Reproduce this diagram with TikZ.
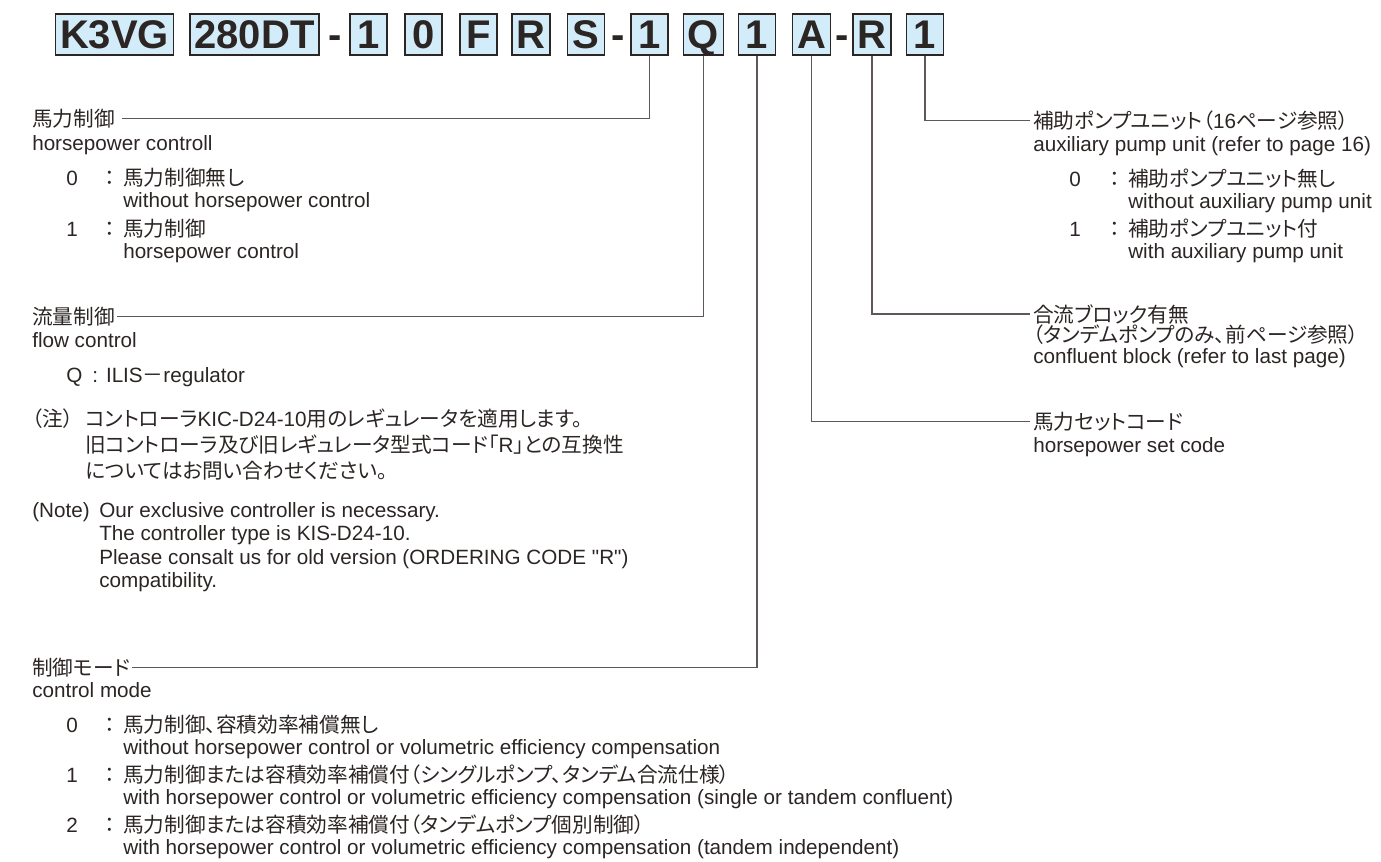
\documentclass[tikz,border=0pt]{standalone}
\usepackage{fontspec}
\setmainfont{Liberation Sans}
\newfontfamily\jpfont[RawFeature=+palt]{Noto Sans CJK JP}
\newcommand{\jtext}[1]{{\jpfont #1}}
\newcommand{\jcolon}{\jtext{：}\hspace{6.5pt}}
\newcommand{\sq}{\XeTeXglyph\XeTeXcharglyph"22\relax}
\definecolor{codefill}{HTML}{D3ECFA}
\definecolor{ink}{HTML}{2B2523}
\definecolor{leadgray}{HTML}{5E5857}
\tikzset{
	codebox/.style={draw=ink, fill=codefill, line width=1pt, text=ink,
		font=\fontsize{30}{30}\selectfont\bfseries, text height=21.6pt, text depth=0pt,
		minimum height=30.75pt, minimum width=27.75pt, inner xsep=3.4pt, inner ysep=0pt},
	codedash/.style={text=ink, font=\fontsize{30}{30}\selectfont\bfseries,
		text height=21.6pt, text depth=0pt, inner sep=0pt},
	lbl/.style={anchor=base west, inner sep=0pt, text=ink, font=\fontsize{15.5}{18}\selectfont},
	leader/.style={draw=leadgray, line width=0.9pt}
}
\begin{document}
\begin{tikzpicture}[x=0.75pt, y=-0.75pt]
	\useasboundingbox (0,0) rectangle (1381,861);
	\node[codebox] (series) at (114.5,34.5) {K3VG};
	\node[codebox] (size) at (254.5,34.5) {280DT};
	\node[codedash] (dashA) at (335,34.5) {-};
	\node[codebox] (c1) at (368.5,34.5) {1};
	\node[codebox] (c0) at (423.5,34.5) {0};
	\node[codebox] (cF) at (478.5,34.5) {F};
	\node[codebox] (cR) at (531,34.5) {R};
	\node[codebox] (cS) at (586,34.5) {S};
	\node[codedash] (dashB) at (618,34.5) {-};
	\node[codebox] (hpc) at (649.5,34.5) {1};
	\node[codebox] (flow) at (703.5,34.5) {Q};
	\node[codebox] (mode) at (757,34.5) {1};
	\node[codebox] (hpset) at (811.5,34.5) {A};
	\node[codedash] (dashC) at (842,34.5) {-};
	\node[codebox] (confl) at (872,34.5) {R};
	\node[codebox] (aux) at (925,34.5) {1};

	\node[lbl] (hpJ) at (32,126) {\jtext{馬力制御}};
	\node[lbl] (hpE) at (32,150) {horsepower controll};
	\node[lbl] (hp0) at (66,185) {0};
	\node[lbl] (hp0J) at (104,185) {\jcolon\jtext{馬力制御無し}};
	\node[lbl] (hp0E) at (123,207) {without horsepower control};
	\node[lbl] (hp1) at (66,236) {1};
	\node[lbl] (hp1J) at (104,236) {\jcolon\jtext{馬力制御}};
	\node[lbl] (hp1E) at (123,258) {horsepower control};

	\node[lbl] (flJ) at (32,324) {\jtext{流量制御}};
	\node[lbl] (flE) at (32,347) {flow control};
	\node[lbl] (flQ) at (66,382) {Q};
	\node[lbl] (flQE) at (92,382) {:\hspace{6pt}ILIS\jtext{－}regulator};

	\node[lbl] (ntJ) at (32,426) {\jtext{（注）}};
	\node[lbl] (ntJ1) at (85,426) {\jtext{コントローラ}KIC-D24-10\jtext{用のレギュレータを適用します。}};
	\node[lbl] (ntJ2) at (85,452) {\jtext{旧コントローラ及び旧レギュレータ型式コード「}R\jtext{」との互換性}};
	\node[lbl] (ntJ3) at (85,478) {\jtext{についてはお問い合わせください。}};
	\node[lbl] (ntE) at (32,517) {(Note)};
	\node[lbl] (ntE1) at (99,517) {Our exclusive controller is necessary.};
	\node[lbl] (ntE2) at (99,540) {The controller type is KIS-D24-10.};
	\node[lbl] (ntE3) at (99,564) {Please consalt us for old version (ORDERING CODE \sq R\sq)};
	\node[lbl] (ntE4) at (99,587) {compatibility.};

	\node[lbl] (mdJ) at (32,675) {\jtext{制御モード}};
	\node[lbl] (mdE) at (32,697) {control mode};
	\node[lbl] (md0) at (66,732) {0};
	\node[lbl] (md0J) at (104,732) {\jcolon\jtext{馬力制御、容積効率補償無し}};
	\node[lbl] (md0E) at (123,754) {without horsepower control or volumetric efficiency compensation};
	\node[lbl] (md1) at (66,782) {1};
	\node[lbl] (md1J) at (104,782) {\jcolon\jtext{馬力制御または容積効率補償付（シングルポンプ、タンデム合流仕様）}};
	\node[lbl] (md1E) at (123,804) {with horsepower control or volumetric efficiency compensation (single or tandem confluent)};
	\node[lbl] (md2) at (66,832) {2};
	\node[lbl] (md2J) at (104,832) {\jcolon\jtext{馬力制御または容積効率補償付（タンデムポンプ個別制御）}};
	\node[lbl] (md2E) at (123,854) {with horsepower control or volumetric efficiency compensation (tandem independent)};

	\node[lbl] (axJ) at (1033,128) {\jtext{補助ポンプユニット（}16\jtext{ページ参照）}};
	\node[lbl] (axE) at (1033,151) {auxiliary pump unit (refer to page 16)};
	\node[lbl] (ax0) at (1069,186) {0};
	\node[lbl] (ax0J) at (1109,186) {\jcolon\jtext{補助ポンプユニット無し}};
	\node[lbl] (ax0E) at (1128,208) {without auxiliary pump unit};
	\node[lbl] (ax1) at (1069,236) {1};
	\node[lbl] (ax1J) at (1109,236) {\jcolon\jtext{補助ポンプユニット付}};
	\node[lbl] (ax1E) at (1128,258) {with auxiliary pump unit};

	\node[lbl] (cfJ) at (1033,322) {\jtext{合流ブロック有無}};
	\node[lbl] (cfJ2) at (1033,342) {\jtext{（タンデムポンプのみ、前ページ参照）}};
	\node[lbl] (cfE) at (1033,363) {confluent block (refer to last page)};

	\node[lbl] (hsJ) at (1033,429) {\jtext{馬力セットコード}};
	\node[lbl] (hsE) at (1033,452) {horsepower set code};

	\draw[leader, shorten >=5pt] (hpc.south) |- (hpJ.east);
	\draw[leader, shorten >=1.5pt] (flow.south) |- (flJ.east);
	\draw[leader, shorten >=1pt] (mode.south) |- (mdJ.east);
	\draw[leader, shorten >=2pt] (hpset.south) |- (hsJ.west);
	\draw[leader, shorten >=2pt] (confl.south) |- (cfJ.west);
	\draw[leader, shorten >=2pt] (aux.south) |- (axJ.west);
\end{tikzpicture}
\end{document}
